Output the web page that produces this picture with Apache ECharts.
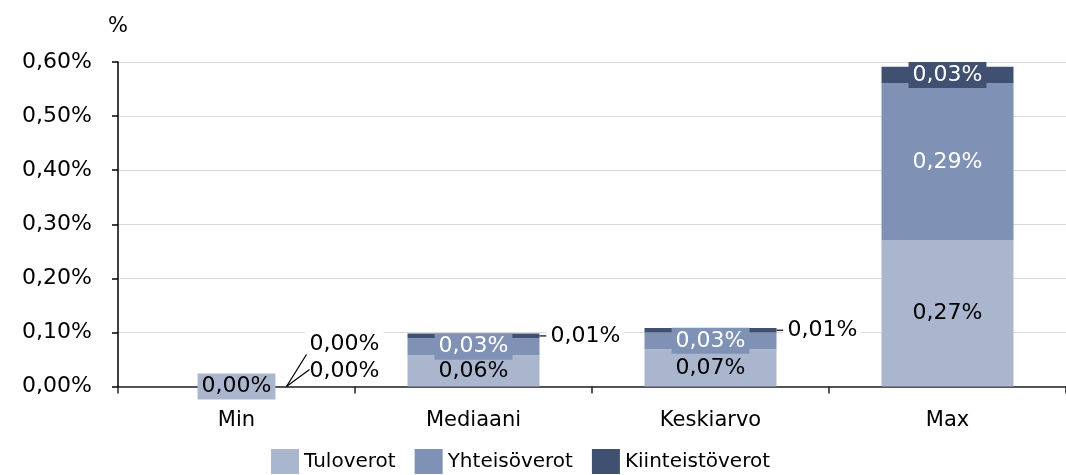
<!DOCTYPE html>
<html>
<head>
<meta charset="utf-8">
<script src="https://cdn.jsdelivr.net/npm/echarts@6/dist/echarts.min.js"></script>
<style>
  html, body { margin: 0; padding: 0; background: #fff; }
  #chart { width: 1066px; height: 475px; }
</style>
</head>
<body>
<div id="chart"></div>
<script>
  // data, in percent
  const categories = ['Min', 'Mediaani', 'Keskiarvo', 'Max'];
  const tuloverot = [0, 0.058, 0.069, 0.27];
  const yhteisoverot = [0, 0.031, 0.031, 0.291];
  const kiinteistoverot = [0, 0.009, 0.008, 0.03];

  const fmt = v => v.toFixed(2).replace('.', ',') + '%';
  const font = 'DejaVu Sans';

  // labels that sit outside the bar (index -> dy shift)
  const yhtOutside = { 0: -15 };
  const kiintOutside = { 0: -42, 1: 0, 2: 0 };

  function buildData(values, outside, dist) {
    return values.map((v, i) => {
      if (outside[i] === undefined) return v;
      return {
        value: v,
        label: {
          position: 'right',
          distance: dist[i],
          color: '#000',
          backgroundColor: '#fff'
        },
        // Min labels get their leader lines drawn below as graphics
        labelLine: { show: i !== 0, lineStyle: { color: '#000', width: 1.2 } }
      };
    });
  }

  const liftLayout = outside => p => {
    const dy = outside[p.dataIndex];
    if (dy === undefined) return {};
    return dy === 0 ? { dx: 1 } : { dy: dy };
  };

  const numLabel = (color, bg) => ({
    show: true, position: 'inside', formatter: p => fmt(p.value),
    fontSize: 22, color: color, backgroundColor: bg, padding: [3, 4, 1, 4]
  });

  let eChart = echarts.init(document.getElementById('chart'));
  let option = {
    animation: false,
    textStyle: { fontFamily: font },
    grid: { left: 118, right: 0, top: 62, bottom: 88.5 },
    legend: {
      left: 266,
      top: 444,
      icon: 'rect',
      itemWidth: 28,
      itemHeight: 25,
      itemGap: 19,
      textStyle: { fontSize: 20, color: '#000', fontFamily: font }
    },
    xAxis: {
      type: 'category',
      data: categories,
      axisLine: { lineStyle: { color: '#222', width: 1.5 } },
      axisTick: { show: true, length: 7, lineStyle: { color: '#222', width: 1.5 } },
      axisLabel: { fontSize: 21, color: '#000', margin: 24, fontFamily: font }
    },
    yAxis: {
      type: 'value',
      min: 0,
      max: 0.6,
      interval: 0.1,
      name: '%',
      nameGap: 25,
      nameTextStyle: { fontSize: 21, color: '#000', fontFamily: font },
      axisLine: { show: true, lineStyle: { color: '#000', width: 1.5 } },
      axisTick: { show: true, length: 6, lineStyle: { color: '#000', width: 1.5 } },
      axisLabel: { fontSize: 22, color: '#000', margin: 26, formatter: fmt, fontFamily: font },
      splitLine: { lineStyle: { color: '#d9d9d9', width: 1 } }
    },
    series: [
      {
        name: 'Tuloverot',
        type: 'bar',
        stack: 'verot',
        barWidth: 132,
        itemStyle: { color: '#aab6ce' },
        label: numLabel('#000', '#aab6ce'),
        data: tuloverot
      },
      {
        name: 'Yhteisöverot',
        type: 'bar',
        stack: 'verot',
        itemStyle: { color: '#7f92b5' },
        label: numLabel('#fff', '#7f92b5'),
        labelLayout: liftLayout(yhtOutside),
        data: buildData(yhteisoverot, yhtOutside, { 0: 3 })
      },
      {
        name: 'Kiinteistöverot',
        type: 'bar',
        stack: 'verot',
        itemStyle: { color: '#3f5070' },
        label: numLabel('#fff', '#3f5070'),
        labelLayout: liftLayout(kiintOutside),
        data: buildData(kiinteistoverot, kiintOutside, { 0: 3, 1: 6, 2: 6 })
      }
    ]
  };
  eChart.setOption(option);

  // leader lines for the two lifted Min labels, anchored on the Min bar base
  const base = eChart.convertToPixel({ xAxisIndex: 0, yAxisIndex: 0 }, [categories[0], 0]);
  const lineStyle = { stroke: '#000', lineWidth: 1.2 };
  eChart.setOption({
    graphic: [
      { type: 'polyline', z: 100, shape: { points: [[base[0] + 50, base[1]], [base[0] + 70, base[1] - 32]] }, style: lineStyle },
      { type: 'polyline', z: 100, shape: { points: [[base[0] + 50, base[1]], [base[0] + 73, base[1] - 17]] }, style: lineStyle }
    ]
  });
</script>
</body>
</html>
